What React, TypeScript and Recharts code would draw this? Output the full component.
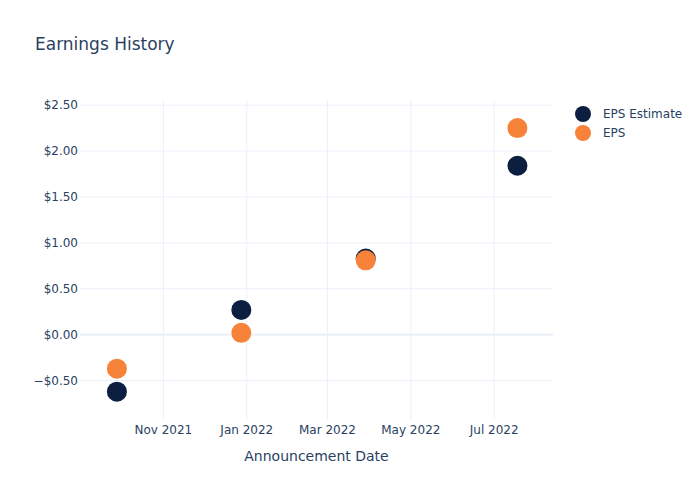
import React from "react";
import {
  ScatterChart,
  Scatter,
  XAxis,
  YAxis,
  ReferenceLine,
} from "recharts";

const announceDates = ["2021-09-28", "2021-12-28", "2022-03-29", "2022-07-18"];
const epsEstimate = [-0.62, 0.27, 0.83, 1.84];
const epsActual = [-0.37, 0.02, 0.81, 2.25];
const xTickDates = ["2021-11-01", "2022-01-01", "2022-03-01", "2022-05-01", "2022-07-01"];
const yTicks = [-0.5, 0, 0.5, 1, 1.5, 2, 2.5];

const MONTHS = ["Jan", "Feb", "Mar", "Apr", "May", "Jun", "Jul", "Aug", "Sep", "Oct", "Nov", "Dec"];
const ts = (d: string) => new Date(d + "T00:00:00Z").getTime();

const estimateData = announceDates.map((d, i) => ({ x: ts(d), y: epsEstimate[i] }));
const epsData = announceDates.map((d, i) => ({ x: ts(d), y: epsActual[i] }));
const xTicks = xTickDates.map(ts);

const FONT = "'DejaVu Sans', 'Open Sans', Arial, sans-serif";
const TEXT = "#2a3f5f";
const GRID = "#EBF0F8";
const NAVY = "#0c1f40";
const ORANGE = "#f7833a";

const fmtDate = (v: number) => {
  const d = new Date(v);
  return `${MONTHS[d.getUTCMonth()]} ${d.getUTCFullYear()}`;
};
const fmtMoney = (v: number) => (v < 0 ? `\u2212$${Math.abs(v).toFixed(2)}` : `$${v.toFixed(2)}`);

const dot = (color: string) => (props: any) => (
  <circle cx={props.cx} cy={props.cy} r={10} fill={color} />
);

export default function App() {
  return (
    <div style={{ position: "absolute", left: 0, top: 0, width: 700, height: 500, background: "#fff", fontFamily: FONT }}>
      <ScatterChart width={700} height={500} margin={{ top: 100, right: 147, left: 0, bottom: 50 }}>
        <XAxis
          type="number"
          dataKey="x"
          domain={[ts("2021-09-01"), ts("2022-08-13")]}
          ticks={xTicks}
          tickFormatter={fmtDate}
          axisLine={false}
          tickLine={false}
          tickSize={0}
          tickMargin={5}
          height={30}
          tick={{ fontSize: 12, fill: TEXT, fontFamily: FONT }}
          allowDataOverflow
        />
        <YAxis
          type="number"
          dataKey="y"
          domain={[-0.929, 2.556]}
          ticks={yTicks}
          tickFormatter={fmtMoney}
          axisLine={false}
          tickLine={false}
          tickSize={0}
          tickMargin={2}
          width={80}
          tick={{ fontSize: 12, fill: TEXT, fontFamily: FONT }}
          allowDataOverflow
        />
        {xTicks.map((t) => (
          <ReferenceLine key={"x" + t} x={t} stroke={GRID} strokeWidth={1} />
        ))}
        {yTicks.map((t) => (
          <ReferenceLine key={"y" + t} y={t} stroke={GRID} strokeWidth={t === 0 ? 2 : 1} />
        ))}
        <Scatter name="EPS Estimate" data={estimateData} fill={NAVY} shape={dot(NAVY)} isAnimationActive={false} />
        <Scatter name="EPS" data={epsData} fill={ORANGE} shape={dot(ORANGE)} isAnimationActive={false} />
        <text x={35} y={50} fontSize={17} fill={TEXT} fontFamily={FONT}>
          Earnings History
        </text>
        <text x={316.5} y={461} fontSize={14} fill={TEXT} fontFamily={FONT} textAnchor="middle">
          Announcement Date
        </text>
        <circle cx={583} cy={114} r={8} fill={NAVY} />
        <text x={603} y={118} fontSize={12} fill={TEXT} fontFamily={FONT}>
          EPS Estimate
        </text>
        <circle cx={583} cy={133} r={8} fill={ORANGE} />
        <text x={603} y={137} fontSize={12} fill={TEXT} fontFamily={FONT}>
          EPS
        </text>
      </ScatterChart>
    </div>
  );
}
